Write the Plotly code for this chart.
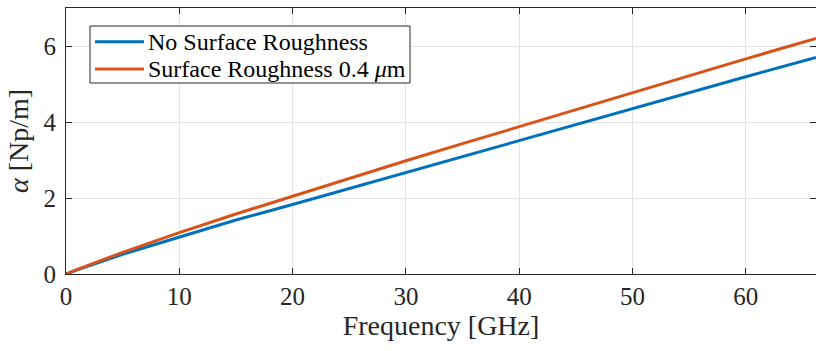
import plotly.graph_objects as go

freq = [0, 1, 5, 10, 15, 20, 25, 30, 35, 40, 45, 50, 55, 60, 66.2]
alpha_smooth = [0, 0.11, 0.52, 0.98, 1.42, 1.83, 2.25, 2.69, 3.11, 3.53, 3.95, 4.37, 4.78, 5.19, 5.70]
alpha_rough = [0, 0.12, 0.57, 1.09, 1.58, 2.05, 2.52, 2.98, 3.43, 3.88, 4.33, 4.77, 5.22, 5.66, 6.20]

names = ["No Surface Roughness", "Surface Roughness 0.4 <i>μ</i>m"]
colors = ["#0072BD", "#D95319"]
xticks = [0, 10, 20, 30, 40, 50, 60]
yticks = [0, 2, 4, 6]

FONT = "Liberation Serif"
DARK = "#262626"

L, R, T, B = 66, 816, 8, 274
W, H = 816, 351


def px(x):
    return (x - L) / (R - L)


def py(y):
    return (B - y) / (B - T)


fig = go.Figure()
for y, n, c in zip([alpha_smooth, alpha_rough], names, colors):
    fig.add_trace(go.Scatter(x=freq, y=y, mode="lines", name=n,
                             line=dict(color=c, width=3), showlegend=False))

axis_common = dict(
    showgrid=True, gridcolor="#e3e3e3", gridwidth=1,
    showline=True, linecolor=DARK, linewidth=1.2, mirror="ticks",
    ticks="inside", ticklen=6, tickcolor=DARK, tickwidth=1,
    zeroline=False, tickfont=dict(family=FONT, size=25, color=DARK),
)

fig.update_xaxes(range=[0, 66.2], tickvals=xticks,
                 title=dict(text="Frequency [GHz]", font=dict(family=FONT, size=28, color=DARK), standoff=6),
                 **axis_common)
fig.update_yaxes(range=[0, 7], tickvals=yticks, ticklabelstandoff=4,
                 title=dict(text="<i>α</i> [Np/m]", font=dict(family=FONT, size=28, color=DARK), standoff=6),
                 **axis_common)

# manual legend
shapes = [dict(type="rect", xref="paper", yref="paper",
               x0=px(90), x1=px(410), y0=py(83), y1=py(26),
               fillcolor="white", line=dict(color=DARK, width=1), layer="above")]
annotations = []
for i, (n, c) in enumerate(zip(names, colors)):
    yy = [41.7, 69.0][i]
    shapes.append(dict(type="line", xref="paper", yref="paper",
                       x0=px(95), x1=px(144), y0=py(yy), y1=py(yy),
                       line=dict(color=c, width=3), layer="above"))
    annotations.append(dict(xref="paper", yref="paper", x=px(146), y=py(yy),
                            xanchor="left", yanchor="middle", showarrow=False,
                            text=n, font=dict(family=FONT, size=24, color="black")))

fig.update_layout(
    width=W, height=H,
    margin=dict(l=L, r=W - R, t=T, b=H - B),
    plot_bgcolor="white", paper_bgcolor="white",
    font=dict(family=FONT, color=DARK),
    shapes=shapes, annotations=annotations,
    showlegend=False,
)

fig.write_html("out.html")
